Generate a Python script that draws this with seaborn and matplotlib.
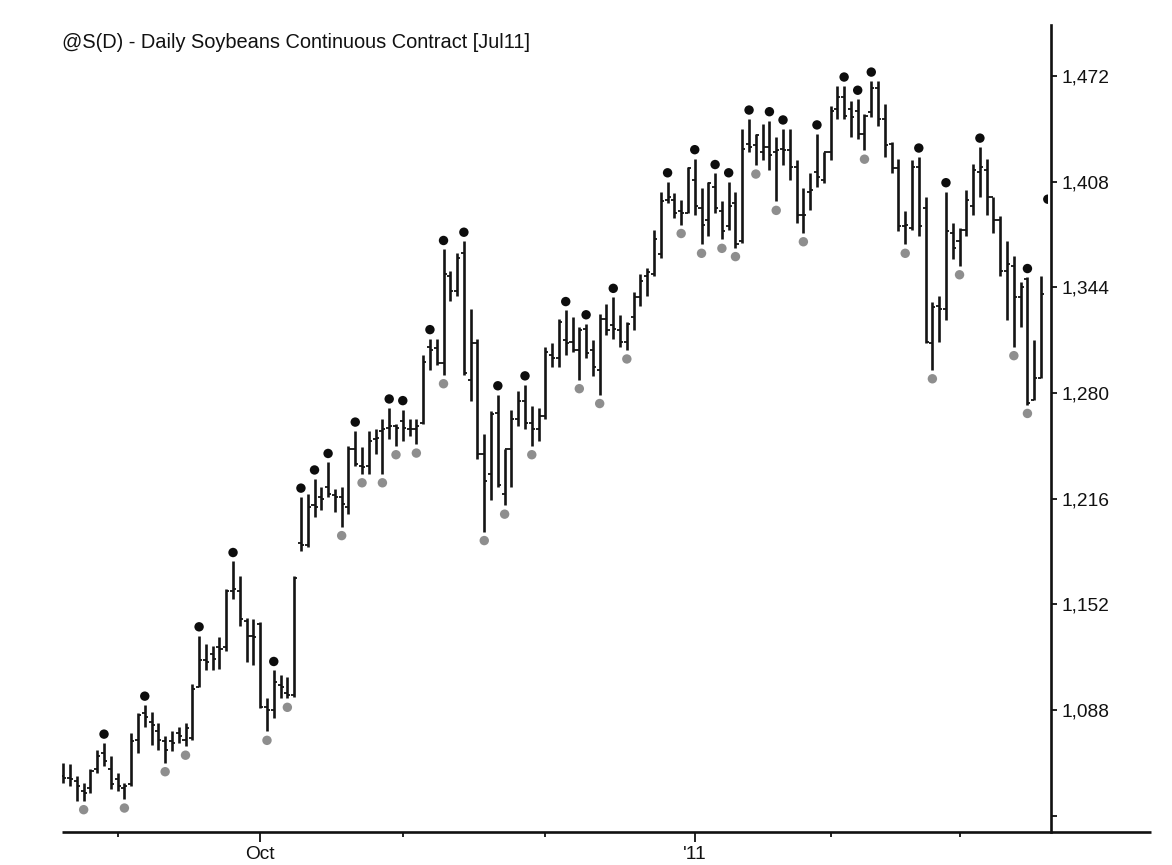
import numpy as np
import pandas as pd
import matplotlib
matplotlib.use("Agg")
import matplotlib.pyplot as plt
import matplotlib.transforms as mtransforms
from matplotlib.patches import Rectangle
from matplotlib.lines import Line2D
import seaborn as sns

# ---------------- data ----------------
title = "@S(D) - Daily Soybeans Continuous Contract [Jul11]"

opens = [1048, 1047, 1045, 1039, 1041, 1052, 1062, 1052, 1046, 1041,
         1043, 1070, 1086, 1081, 1075, 1069, 1069, 1074, 1070, 1071,
         1102, 1118, 1122, 1126, 1126, 1160, 1160, 1142, 1133, 1140,
         1090, 1088, 1103, 1098, 1097, 1189, 1188, 1212, 1217, 1223,
         1218, 1217, 1211, 1246, 1236, 1236, 1252, 1257, 1259, 1260,
         1263, 1258, 1258, 1262, 1308, 1307, 1298, 1351, 1342, 1365,
         1288, 1310, 1243, 1231, 1268, 1219, 1246, 1264, 1275, 1262,
         1258, 1266, 1303, 1301, 1312, 1311, 1306, 1319, 1306, 1294,
         1325, 1321, 1318, 1311, 1326, 1338, 1351, 1352, 1364, 1397,
         1397, 1390, 1389, 1409, 1392, 1385, 1405, 1390, 1381, 1395,
         1372, 1431, 1430, 1426, 1429, 1426, 1428, 1427, 1417, 1388,
         1402, 1414, 1409, 1426, 1452, 1459, 1452, 1451, 1437, 1450,
         1465, 1446, 1431, 1416, 1381, 1380, 1417, 1392, 1310, 1333,
         1331, 1377, 1372, 1379, 1393, 1414, 1415, 1399, 1385, 1354,
         1357, 1338, 1349, 1276, 1289]
highs = [1056, 1055, 1048, 1044, 1052, 1064, 1068, 1060, 1050, 1044,
         1074, 1086, 1091, 1087, 1080, 1072, 1075, 1078, 1080, 1104,
         1133, 1128, 1127, 1132, 1161, 1178, 1169, 1144, 1143, 1141,
         1095, 1112, 1109, 1108, 1169, 1217, 1219, 1228, 1223, 1238,
         1222, 1223, 1248, 1257, 1247, 1257, 1258, 1264, 1271, 1261,
         1270, 1264, 1264, 1303, 1313, 1313, 1367, 1354, 1365, 1372,
         1331, 1313, 1255, 1269, 1279, 1246, 1270, 1281, 1285, 1272,
         1271, 1308, 1310, 1325, 1330, 1326, 1320, 1322, 1312, 1328,
         1334, 1338, 1327, 1323, 1341, 1352, 1356, 1379, 1402, 1408,
         1401, 1397, 1417, 1422, 1404, 1408, 1413, 1396, 1408, 1402,
         1440, 1446, 1437, 1443, 1445, 1435, 1440, 1440, 1421, 1404,
         1413, 1437, 1426, 1454, 1466, 1466, 1457, 1458, 1449, 1469,
         1469, 1455, 1432, 1422, 1390, 1421, 1423, 1399, 1335, 1339,
         1402, 1383, 1380, 1403, 1419, 1429, 1422, 1399, 1387, 1372,
         1363, 1347, 1350, 1312, 1351]
lows = [1044, 1042, 1033, 1033, 1038, 1050, 1054, 1040, 1039, 1034,
        1042, 1062, 1078, 1067, 1064, 1056, 1063, 1068, 1066, 1070,
        1102, 1112, 1112, 1113, 1124, 1155, 1139, 1117, 1115, 1089,
        1075, 1083, 1095, 1095, 1096, 1184, 1187, 1205, 1209, 1217,
        1208, 1199, 1207, 1236, 1231, 1231, 1243, 1231, 1252, 1248,
        1251, 1254, 1249, 1261, 1294, 1297, 1291, 1336, 1339, 1291,
        1275, 1240, 1196, 1215, 1223, 1212, 1223, 1260, 1258, 1248,
        1251, 1264, 1296, 1296, 1303, 1305, 1288, 1301, 1290, 1279,
        1315, 1313, 1308, 1306, 1318, 1333, 1339, 1351, 1362, 1395,
        1386, 1382, 1389, 1388, 1370, 1375, 1389, 1373, 1379, 1368,
        1371, 1426, 1418, 1421, 1415, 1396, 1418, 1409, 1383, 1377,
        1391, 1405, 1407, 1421, 1446, 1446, 1435, 1434, 1427, 1447,
        1442, 1423, 1413, 1378, 1370, 1379, 1375, 1310, 1294, 1311,
        1324, 1361, 1357, 1375, 1388, 1399, 1388, 1377, 1351, 1324,
        1308, 1320, 1273, 1276, 1289]
closes = [1047, 1046, 1042, 1038, 1051, 1060, 1057, 1043, 1042, 1042,
          1069, 1085, 1084, 1079, 1070, 1064, 1068, 1072, 1077, 1101,
          1118, 1117, 1119, 1125, 1160, 1161, 1143, 1133, 1132, 1090,
          1088, 1105, 1102, 1097, 1168, 1188, 1211, 1211, 1216, 1219,
          1217, 1213, 1246, 1237, 1235, 1251, 1253, 1258, 1260, 1259,
          1259, 1258, 1260, 1299, 1306, 1298, 1352, 1342, 1362, 1292,
          1310, 1243, 1227, 1267, 1224, 1246, 1264, 1275, 1262, 1258,
          1266, 1305, 1301, 1323, 1310, 1306, 1318, 1304, 1296, 1325,
          1318, 1319, 1311, 1322, 1338, 1348, 1353, 1373, 1396, 1399,
          1389, 1389, 1416, 1393, 1382, 1407, 1392, 1378, 1393, 1370,
          1428, 1429, 1436, 1429, 1424, 1427, 1427, 1417, 1388, 1388,
          1403, 1411, 1426, 1451, 1459, 1448, 1447, 1437, 1448, 1465,
          1446, 1430, 1416, 1381, 1382, 1417, 1381, 1311, 1332, 1331,
          1378, 1368, 1379, 1397, 1415, 1417, 1399, 1385, 1354, 1358,
          1338, 1344, 1274, 1289, 1340]

# bars (0-based) carrying a pivot-high (black) / pivot-low (grey) marker
pivot_high_idx = [6, 12, 20, 25, 31, 35, 37, 39, 43, 48, 50, 54, 56, 59, 64,
                  68, 74, 77, 81, 89, 93, 96, 98, 101, 104, 106, 111, 115,
                  117, 119, 126, 130, 135, 142]
pivot_low_idx = [3, 9, 15, 18, 30, 33, 41, 44, 47, 49, 52, 56, 62, 65, 69,
                 76, 79, 83, 91, 94, 97, 99, 102, 105, 109, 118, 124, 128,
                 132, 140, 142]
# high of the next bar, just past the right edge (only its marker peeks in)
next_bar_high = 1392

month_tick_idx = [8, 29, 50, 71, 93, 113, 132]
month_tick_labels = ["", "Oct", "", "", "'11", "", ""]
price_ticks = [1024, 1088, 1152, 1216, 1280, 1344, 1408, 1472]
price_tick_labels = ["", "1,088", "1,152", "1,216", "1,280", "1,344",
                     "1,408", "1,472"]

# ---------------- style ----------------
sns.set_theme(style="white")
plt.rcParams['font.family'] = ['Liberation Sans', 'DejaVu Sans']

W, H = 1172, 865
fig = plt.figure(figsize=(W / 100, H / 100), dpi=100)
fig.patch.set_facecolor("white")
ax = fig.add_axes([62 / W, 33 / H, 989 / W, 807 / H])
ax.set_facecolor("white")

bar_color = "#141414"
x = np.arange(len(highs))
ax.vlines(x, lows, highs, color=bar_color, lw=1.9, zorder=3)
ax.hlines(opens, x - 0.45, x, color=bar_color, lw=1.3, zorder=3)
ax.hlines(closes, x, x + 0.45, color=bar_color, lw=1.3, zorder=3)

# pivot markers
hi_df = pd.DataFrame({
    "x": list(pivot_high_idx) + [len(highs)],
    "y": [highs[i] for i in pivot_high_idx] + [next_bar_high],
})
lo_df = pd.DataFrame({
    "x": list(pivot_low_idx),
    "y": [lows[i] for i in pivot_low_idx],
})
up = mtransforms.offset_copy(ax.transData, fig=fig, x=0, y=6.4, units="points")
down = mtransforms.offset_copy(ax.transData, fig=fig, x=0, y=-6.4, units="points")
sns.scatterplot(data=hi_df, x="x", y="y", ax=ax, color="#0d0d0d", s=46,
                edgecolor="none", linewidth=0, transform=up, zorder=4)
hi_coll = ax.collections[-1]
sns.scatterplot(data=lo_df, x="x", y="y", ax=ax, color="#8e8e8e", s=46,
                edgecolor="none", linewidth=0, transform=down, zorder=4)

xmin, xmax = -0.19, 145.47
ax.set_xlim(xmin, xmax)
ax.set_ylim(1014.1, 1502.9)
clip = Rectangle((xmin, 900), len(highs) - xmin, 800, transform=ax.transData)
hi_coll.set_clip_path(clip)

ax.set_xlabel("")
ax.set_ylabel("")

# y axis on the right
ax.yaxis.tick_right()
ax.set_yticks(price_ticks)
ax.set_yticklabels(price_tick_labels)
ax.tick_params(axis="y", which="major", direction="out", length=4.5,
               width=1.3, color="#111111", labelsize=13.8, pad=3,
               labelcolor="#111111", left=False, right=True)

# x axis month ticks
major_pos = [p for p, l in zip(month_tick_idx, month_tick_labels) if l]
major_lab = [l for l in month_tick_labels if l]
minor_pos = [p for p, l in zip(month_tick_idx, month_tick_labels) if not l]
ax.set_xticks(major_pos)
ax.set_xticklabels(major_lab)
ax.set_xticks(minor_pos, minor=True)
ax.tick_params(axis="x", which="major", direction="out", length=7,
               width=1.3, color="#111111", labelsize=13.8, pad=3,
               labelcolor="#111111", bottom=True)
ax.tick_params(axis="x", which="minor", direction="out", length=3.5,
               width=1.3, color="#111111", bottom=True)

for side in ["left", "top", "bottom"]:
    ax.spines[side].set_visible(False)
ax.spines["right"].set_visible(True)
ax.spines["right"].set_color("#111111")
ax.spines["right"].set_linewidth(1.9)
ax.grid(False)

# bottom axis line, running past the price scale
y0 = 33 / H
fig.add_artist(Line2D([62 / W, 1151 / W], [y0, y0], transform=fig.transFigure,
                      color="#111111", lw=1.9, solid_capstyle="butt"))

fig.text(62 / W, 1 - 43 / H, title, ha="left", va="center",
         fontsize=14.4, color="#111111")

fig.savefig("out.png", dpi=100, facecolor="white")
